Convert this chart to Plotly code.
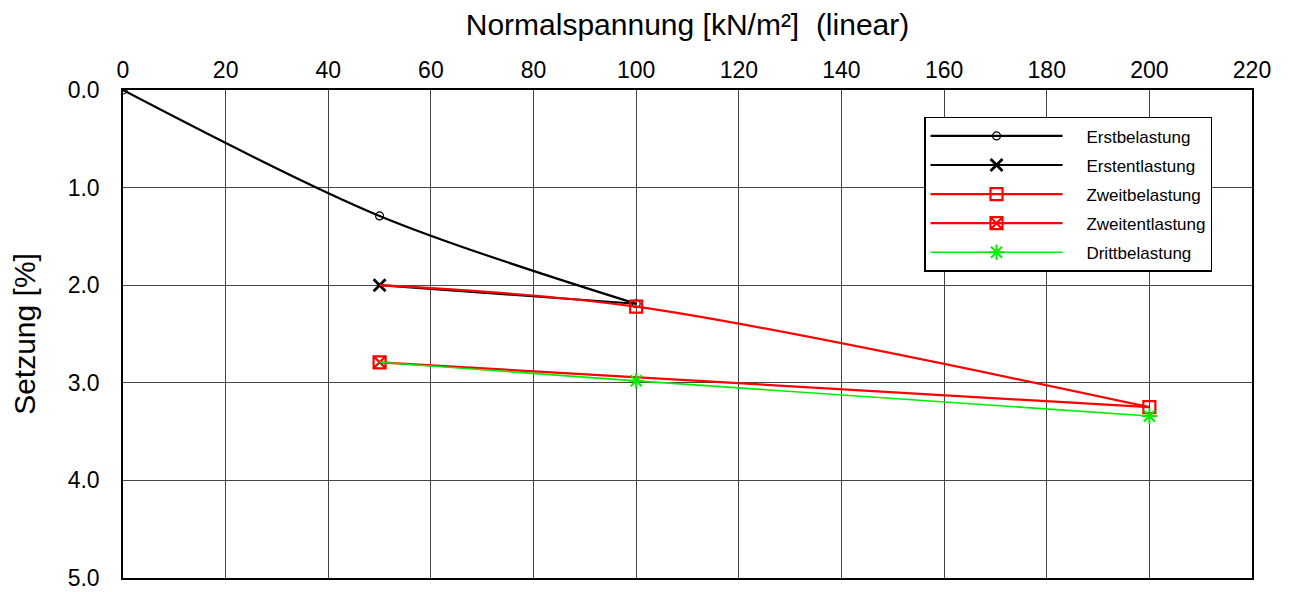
import plotly.graph_objects as go

# Data
erst_bel_x = [0, 50, 100]
erst_bel_y = [0.0, 1.29, 2.19]
erst_ent_x = [100, 50]
erst_ent_y = [2.19, 2.0]
zweit_bel_x = [50, 100, 200]
zweit_bel_y = [2.0, 2.22, 3.25]
zweit_ent_x = [200, 50]
zweit_ent_y = [3.25, 2.79]
dritt_bel_x = [50, 100, 200]
dritt_bel_y = [2.79, 2.98, 3.34]

x_ticks = list(range(0, 221, 20))
y_ticks = [0, 1, 2, 3, 4, 5]

series = [
    ("Erstbelastung", erst_bel_x, erst_bel_y, dict(color="black", width=2.2, shape="spline", smoothing=0.9),
     dict(symbol="circle-open", size=8, color="black", line=dict(width=1.2)), True),
    ("Erstentlastung", erst_ent_x, erst_ent_y, dict(color="black", width=2.2),
     dict(symbol="x-thin-open", size=12, color="black", line=dict(width=2.8)), False),
    ("Zweitbelastung", zweit_bel_x, zweit_bel_y, dict(color="red", width=2.2, shape="spline", smoothing=0.9),
     dict(symbol="square-open", size=12, color="red", line=dict(width=2.2)), False),
    ("Zweitentlastung", zweit_ent_x, zweit_ent_y, dict(color="red", width=2.2),
     dict(symbol="square-x-open", size=12, color="red", line=dict(width=2.2)), False),
    ("Drittbelastung", dritt_bel_x, dritt_bel_y, dict(color="#00ee00", width=1.6, shape="spline", smoothing=0.9),
     dict(symbol="asterisk-open", size=13, color="#00ee00", line=dict(width=2)), False),
]

PAD = "\u00a0" * 4

fig = go.Figure()
for name, xs, ys, ln, mk, first_marker in series:
    fig.add_trace(go.Scatter(x=xs, y=ys, mode="lines", line=ln, showlegend=False, hoverinfo="skip"))
    mx = xs if first_marker else xs[1:]
    my = ys if first_marker else ys[1:]
    fig.add_trace(go.Scatter(x=mx, y=my, mode="markers", marker=mk, showlegend=False, name=name))
    fig.add_trace(go.Scatter(x=[None], y=[None], mode="lines+markers", name=PAD + name, legendgroup=name,
                             line=dict(color=ln["color"], width=ln["width"]), marker=mk))

fig.update_layout(
    width=1290, height=592,
    margin=dict(l=115, r=46, t=82, b=22),
    plot_bgcolor="white", paper_bgcolor="white",
    font=dict(family="Liberation Sans, Arial, sans-serif", color="black"),
    showlegend=True,
    legend=dict(x=0.7095, y=0.945, xanchor="left", yanchor="top",
                bgcolor="white", bordercolor="black", borderwidth=1.5,
                font=dict(size=17, color="black"), itemwidth=132,
                tracegroupgap=4),
    xaxis=dict(side="top", range=[0, 220], tickvals=x_ticks, ticks="", automargin=False,
               showgrid=True, gridcolor="#444", gridwidth=1, ticklabelstandoff=1,
               showline=True, linecolor="black", linewidth=1.5, mirror=True,
               tickfont=dict(size=23), zeroline=False,
               title=dict(text="Normalspannung [kN/m²]  (linear)", font=dict(size=30), standoff=16)),
    yaxis=dict(range=[5, 0], tickvals=y_ticks, tickformat=".1f", ticks="", automargin=False,
               showgrid=True, gridcolor="#444", gridwidth=1, ticklabelstandoff=17,
               showline=True, linecolor="black", linewidth=1.5, mirror=True,
               tickfont=dict(size=23), zeroline=False,
               title=dict(text="Setzung [%]", font=dict(size=30), standoff=26)),
)

fig.write_html("out.html")
